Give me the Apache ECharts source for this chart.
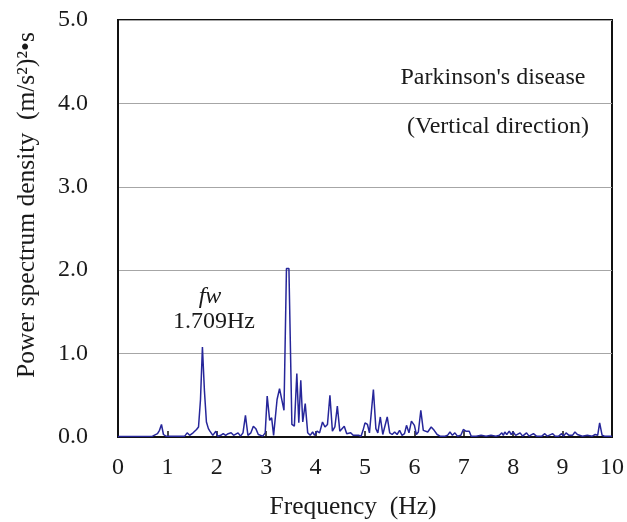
<!DOCTYPE html>
<html>
<head>
<meta charset="utf-8">
<script src="https://cdn.jsdelivr.net/npm/echarts@6/dist/echarts.min.js"></script>
<style>
  html, body { margin: 0; padding: 0; background: #fff; }
  #chart { width: 627px; height: 522px; }
</style>
</head>
<body>
<div id="chart"></div>
<script>
// Frequency bins (Hz) and power spectral density ((m/s^2)^2·s)
const freqHz = [
  0.00, 0.70, 0.80, 0.84, 0.88, 0.92, 0.97, 1.35, 1.40, 1.45,
  1.52, 1.56, 1.59, 1.63, 1.67, 1.709, 1.75, 1.79, 1.83, 1.86,
  1.92, 1.98, 2.02, 2.08, 2.13, 2.18, 2.23, 2.29, 2.34, 2.43,
  2.48, 2.53, 2.58, 2.63, 2.69, 2.74, 2.79, 2.84, 2.88, 2.93,
  2.98, 3.02, 3.07, 3.11, 3.15, 3.22, 3.27, 3.31, 3.36, 3.41,
  3.46, 3.52, 3.57, 3.62, 3.66, 3.70, 3.74, 3.79, 3.84, 3.89,
  3.94, 3.98, 4.03, 4.08, 4.14, 4.19, 4.24, 4.29, 4.34, 4.39,
  4.44, 4.49, 4.53, 4.58, 4.63, 4.67, 4.71, 4.76, 4.82, 4.87,
  4.92, 4.96, 5.00, 5.05, 5.09, 5.17, 5.22, 5.26, 5.31, 5.36,
  5.40, 5.45, 5.50, 5.55, 5.60, 5.65, 5.70, 5.75, 5.80, 5.84,
  5.89, 5.94, 6.00, 6.04, 6.08, 6.13, 6.18, 6.22, 6.27, 6.34,
  6.40, 6.46, 6.52, 6.62, 6.67, 6.72, 6.77, 6.82, 6.87, 6.94,
  6.99, 7.04, 7.08, 7.11, 7.15, 7.25, 7.35, 7.45, 7.55, 7.65,
  7.72, 7.77, 7.80, 7.83, 7.87, 7.92, 7.96, 8.00, 8.05, 8.09,
  8.14, 8.19, 8.27, 8.32, 8.41, 8.47, 8.58, 8.64, 8.69, 8.80,
  8.85, 8.92, 8.98, 9.02, 9.07, 9.13, 9.20, 9.25, 9.30, 9.34,
  9.40, 9.50, 9.60, 9.66, 9.71, 9.75, 9.80, 9.85, 10.00
];
const psd = [
  0.005, 0.01, 0.04, 0.08, 0.15, 0.03, 0.01, 0.01, 0.05, 0.02,
  0.05, 0.03, 0.09, 0.12, 0.45, 1.08, 0.55, 0.18, 0.10, 0.07,
  0.02, 0.07, 0.01, 0.02, 0.04, 0.02, 0.04, 0.05, 0.02, 0.05,
  0.01, 0.05, 0.26, 0.02, 0.05, 0.13, 0.10, 0.03, 0.01, 0.01,
  0.05, 0.49, 0.20, 0.23, 0.02, 0.45, 0.58, 0.60, 0.32, 2.02,
  2.02, 0.15, 0.13, 0.76, 0.17, 0.68, 0.18, 0.40, 0.05, 0.02,
  0.06, 0.02, 0.07, 0.05, 0.18, 0.12, 0.15, 0.50, 0.07, 0.12,
  0.37, 0.07, 0.06, 0.13, 0.04, 0.03, 0.05, 0.02, 0.02, 0.02,
  0.01, 0.08, 0.17, 0.15, 0.05, 0.57, 0.10, 0.05, 0.24, 0.03,
  0.05, 0.24, 0.05, 0.03, 0.06, 0.03, 0.08, 0.02, 0.04, 0.14,
  0.05, 0.19, 0.14, 0.03, 0.06, 0.32, 0.08, 0.08, 0.06, 0.12,
  0.08, 0.03, 0.01, 0.01, 0.02, 0.06, 0.02, 0.05, 0.01, 0.02,
  0.09, 0.07, 0.06, 0.07, 0.01, 0.01, 0.02, 0.01, 0.02, 0.01,
  0.02, 0.05, 0.02, 0.06, 0.03, 0.07, 0.03, 0.06, 0.02, 0.03,
  0.05, 0.01, 0.05, 0.01, 0.04, 0.01, 0.01, 0.04, 0.01, 0.04,
  0.01, 0.01, 0.04, 0.01, 0.05, 0.02, 0.02, 0.06, 0.03, 0.03,
  0.01, 0.02, 0.01, 0.03, 0.02, 0.17, 0.02, 0.01, 0.01
];
const xTicks = [0, 1, 2, 3, 4, 5, 6, 7, 8, 9, 10];
const yTicks = [0, 1, 2, 3, 4, 5];

const serif = '"Liberation Serif", "DejaVu Serif", serif';
const textColor = '#1a1a1a';
const fs = 24;
const nameFs = 25.5;

const chart = echarts.init(document.getElementById('chart'), null, { renderer: 'canvas' });

chart.setOption({
  animation: false,
  backgroundColor: '#ffffff',
  grid: {
    left: 118, right: 15, top: 20, bottom: 85,
    show: true, borderColor: '#111', borderWidth: 2
  },
  xAxis: {
    type: 'value',
    min: xTicks[0], max: xTicks[xTicks.length - 1], interval: 1,
    axisLine: { show: true, lineStyle: { color: '#111', width: 2 } },
    axisTick: { show: true, inside: true, length: 6, lineStyle: { color: '#111', width: 1.5 } },
    axisLabel: {
      margin: 19, color: textColor, fontFamily: serif, fontSize: fs,
      formatter: v => String(v)
    },
    splitLine: { show: false }
  },
  yAxis: {
    type: 'value',
    min: yTicks[0], max: yTicks[yTicks.length - 1], interval: 1,
    axisLine: { show: true, lineStyle: { color: '#111', width: 2 } },
    axisTick: { show: false },
    axisLabel: {
      margin: 30, color: textColor, fontFamily: serif, fontSize: fs,
      formatter: v => v.toFixed(1)
    },
    splitLine: { show: true, lineStyle: { color: '#a6a6a6', width: 1 } }
  },
  series: [{
    type: 'line',
    data: freqHz.map((f, i) => [f, psd[i]]),
    showSymbol: false,
    lineStyle: { color: '#26269a', width: 1.5 },
    z: 3
  }],
  graphic: [
    {
      type: 'text', x: 27, y: 205, rotation: Math.PI / 2,
      style: {
        text: 'Power spectrum density  (m/s²)²•s',
        fontFamily: serif, fontSize: nameFs, fill: textColor,
        align: 'center', verticalAlign: 'middle'
      }
    },
    {
      type: 'text', x: 353, y: 507,
      style: {
        text: 'Frequency  (Hz)',
        fontFamily: serif, fontSize: nameFs, fill: textColor,
        align: 'center', verticalAlign: 'middle'
      }
    },
    {
      type: 'text', x: 493, y: 78,
      style: {
        text: "Parkinson's disease",
        fontFamily: serif, fontSize: fs, fill: textColor,
        align: 'center', verticalAlign: 'middle'
      }
    },
    {
      type: 'text', x: 498, y: 127,
      style: {
        text: '(Vertical direction)',
        fontFamily: serif, fontSize: fs, fill: textColor,
        align: 'center', verticalAlign: 'middle'
      }
    },
    {
      type: 'text', x: 210, y: 297,
      style: {
        text: 'fw',
        fontFamily: serif, fontStyle: 'italic', fontSize: fs, fill: textColor,
        align: 'center', verticalAlign: 'middle'
      }
    },
    {
      type: 'text', x: 214, y: 322,
      style: {
        text: '1.709Hz',
        fontFamily: serif, fontSize: fs, fill: textColor,
        align: 'center', verticalAlign: 'middle'
      }
    }
  ]
});
</script>
</body>
</html>
